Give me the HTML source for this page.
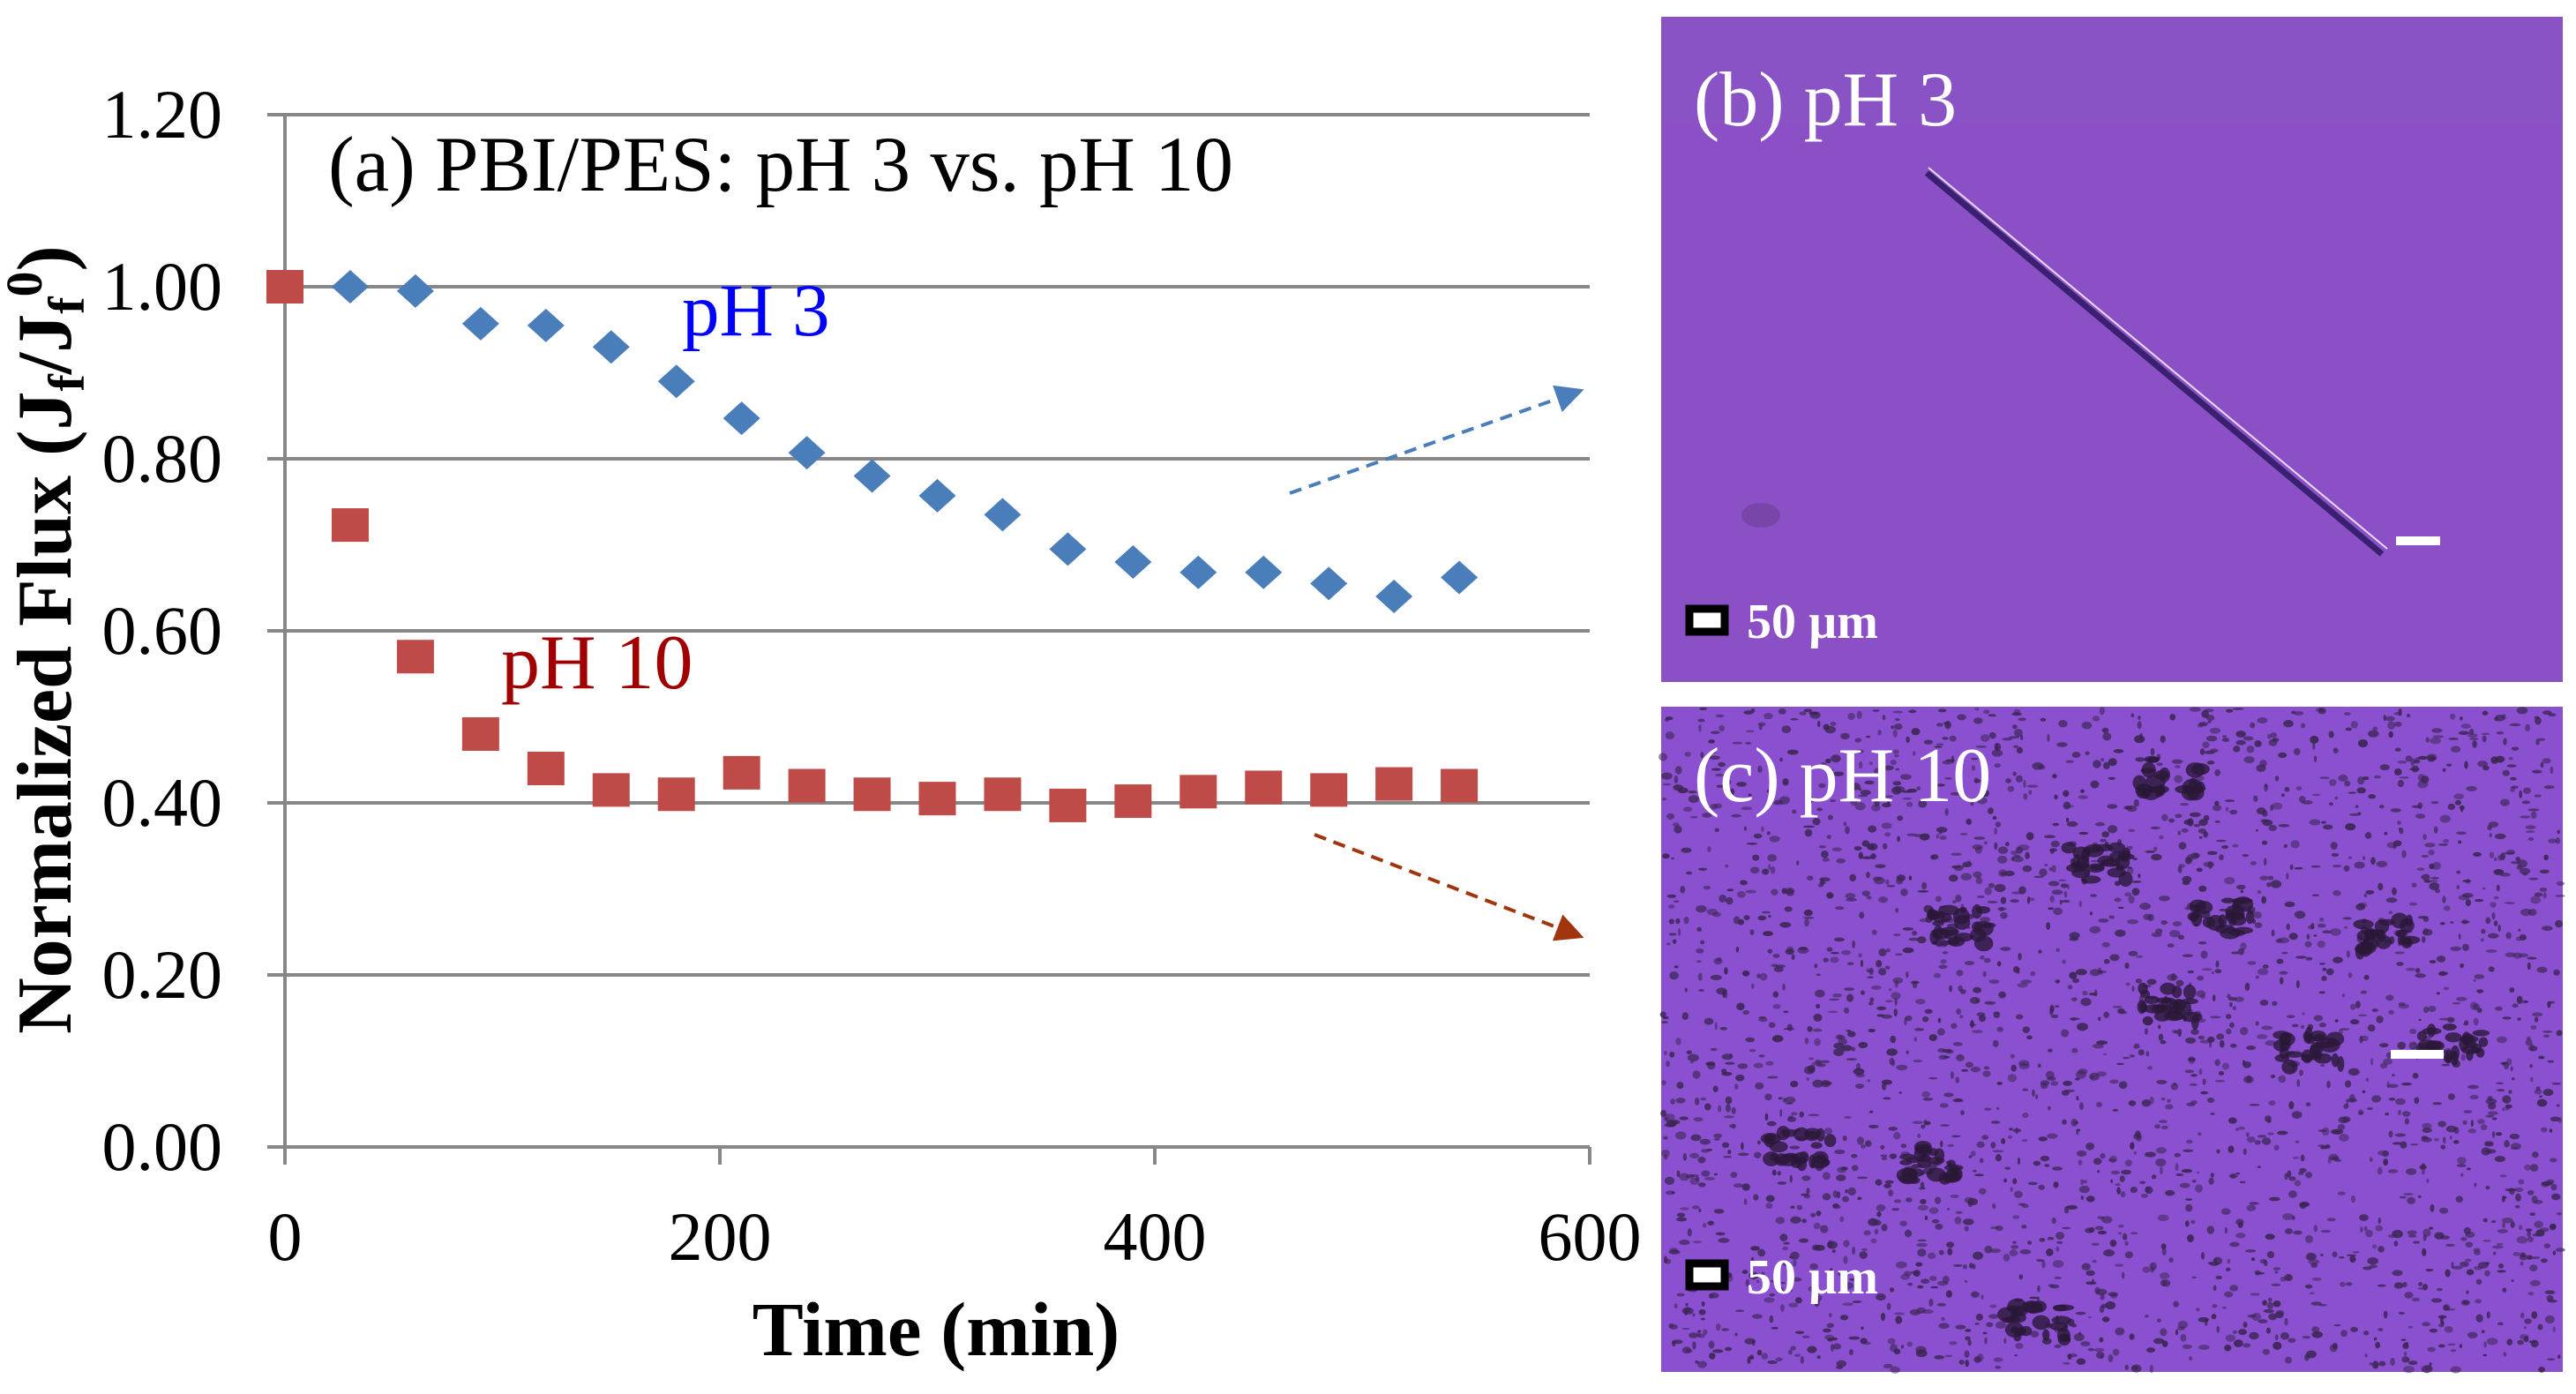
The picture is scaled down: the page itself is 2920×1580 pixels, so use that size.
<!DOCTYPE html>
<html><head><meta charset="utf-8"><style>
body{margin:0;background:#fff}
svg{display:block}
text{font-family:"Liberation Serif",serif}
</style></head><body>
<svg id="fig" width="2920" height="1580" viewBox="0 0 2920 1580" xmlns="http://www.w3.org/2000/svg">
<defs>
<marker id="ab" markerWidth="8" markerHeight="8" refX="6" refY="4" orient="auto" markerUnits="strokeWidth"><path d="M0,0 L8,4 L0,8 Z" fill="#4a7ebb"/></marker>
<marker id="ar" markerWidth="8" markerHeight="8" refX="6" refY="4" orient="auto" markerUnits="strokeWidth"><path d="M0,0 L8,4 L0,8 Z" fill="#a0350e"/></marker>
</defs>
<g id="grid"></g>
<g id="axes"></g>
<g id="marks"></g>
<text x="372" y="216" font-size="89">(a) PBI/PES: pH 3 vs. pH 10</text>
<text x="773" y="380" font-size="85" fill="#0000ff">pH 3</text>
<text x="568" y="780" font-size="88" fill="#a00000">pH 10</text>
<line x1="1462" y1="559" x2="1788" y2="444" stroke="#4a7ebb" stroke-width="4" stroke-dasharray="14,9" marker-end="url(#ab)"/>
<line x1="1490" y1="946" x2="1788" y2="1060" stroke="#a0350e" stroke-width="4" stroke-dasharray="14,9" marker-end="url(#ar)"/>
<text x="1061" y="1536" font-size="87" font-weight="bold" text-anchor="middle">Time (min)</text>
<text transform="translate(80,725) rotate(-90)" font-size="88" font-weight="bold" text-anchor="middle">Normalized Flux (J<tspan font-size="58" dy="15">f</tspan><tspan dy="-15">/J</tspan><tspan font-size="58" dy="15">f</tspan><tspan font-size="58" dy="-48">0</tspan><tspan dy="33">)</tspan></text>

<g>
<rect x="1883" y="19" width="1022" height="754" fill="#8b4fc6"/>
<rect x="1883" y="19" width="1022" height="120" fill="#8a58c4" opacity="0.5"/>
<ellipse cx="1996" cy="584" rx="22" ry="14" fill="#5a3a7a" opacity="0.4"/>
<line x1="2184" y1="196" x2="2700" y2="628" stroke="#3a2070" stroke-width="7"/>
<line x1="2186" y1="190" x2="2706" y2="622" stroke="#e8dcf5" stroke-width="2"/>
<rect x="2716" y="608" width="50" height="10" fill="#fff"/>
<text x="1920" y="142" font-size="88" fill="#fff">(b) pH 3</text>
<rect x="1915" y="690" width="40" height="26" fill="#fff" stroke="#000" stroke-width="9"/>
<text x="1980" y="723" font-size="56" font-weight="bold" fill="#fff">50 µm</text>
</g>
<g>
<rect x="1883" y="801" width="1022" height="754" fill="#8a50d0"/>
<g id="speck"></g>
<rect x="2710" y="1190" width="60" height="10" fill="#fff"/>
<text x="1920" y="908" font-size="88" fill="#fff">(c) pH 10</text>
<rect x="1915" y="1432" width="40" height="26" fill="#fff" stroke="#000" stroke-width="9"/>
<text x="1980" y="1466" font-size="56" font-weight="bold" fill="#fff">50 µm</text>
</g>
</svg>
<script>
const xTicks=[0,200,400,600];
const yTicks=[0,0.2,0.4,0.6,0.8,1.0,1.2];
const yTickLabels=["0.00","0.20","0.40","0.60","0.80","1.00","1.20"];
const timePH3=[30,60,90,120,150,180,210,240,270,300,330,360,390,420,450,480,510,540];
const fluxPH3=[1.00,0.995,0.957,0.955,0.93,0.89,0.847,0.807,0.78,0.757,0.735,0.695,0.68,0.668,0.668,0.655,0.64,0.662];
const timePH10=[0,30,60,90,120,150,180,210,240,270,300,330,360,390,420,450,480,510,540];
const fluxPH10=[1.00,0.723,0.57,0.48,0.44,0.415,0.41,0.435,0.42,0.41,0.405,0.41,0.397,0.402,0.413,0.418,0.415,0.422,0.42];

const NS="http://www.w3.org/2000/svg";
const X0=323,X1=1802,Y0=1300,Y1=130;
const sx=v=>X0+(v-0)/(600-0)*(X1-X0);
const sy=v=>Y0-(v-0)/(1.2-0)*(Y0-Y1);
function mk(tag,attrs,parent){const e=document.createElementNS(NS,tag);for(const k in attrs)e.setAttribute(k,attrs[k]);parent.appendChild(e);return e;}
const grid=document.getElementById('grid'),axes=document.getElementById('axes'),marks=document.getElementById('marks');
yTicks.forEach((v,i)=>{
  const l=mk('line',{x1:X0-20,x2:X1,y1:sy(v),y2:sy(v),stroke:'#878787','stroke-width':4},grid);
  
  
  const t=mk('text',{x:252,y:sy(v)+26,'font-size':78,'text-anchor':'end'},axes);
  t.textContent=yTickLabels[i];
  
  
});
const ya=mk('line',{x1:X0,x2:X0,y1:Y1,y2:Y0+20,stroke:'#878787','stroke-width':4},axes);


xTicks.forEach(v=>{
  const l=mk('line',{x1:sx(v),x2:sx(v),y1:Y0,y2:Y0+20,stroke:'#878787','stroke-width':4},axes);
  
  
  const t=mk('text',{x:sx(v),y:1428,'font-size':78,'text-anchor':'middle'},axes);
  t.textContent=String(v);
  
  
});
timePH3.forEach((t,i)=>{
  const x=sx(t),y=sy(fluxPH3[i]);
  const p=mk('polygon',{points:`${x-21},${y} ${x},${y-19} ${x+21},${y} ${x},${y+19}`,fill:'#4a7ebb'},marks);
  
  
});
timePH10.forEach((t,i)=>{
  const x=sx(t),y=sy(fluxPH10[i]);
  const r=mk('rect',{x:x-21,y:y-19,width:42,height:38,fill:'#be4b48'},marks);
  
  
});
// decorative speckles for micrograph (c)
const sp=document.getElementById('speck');let s=12345;
const rnd=()=>{s=(s*1103515245+12345)%2147483648;return s/2147483648;};
for(let i=0;i<2600;i++){
  const cx=1885+rnd()*1018,cy=803+rnd()*750;
  mk('ellipse',{cx:cx,cy:cy,rx:1.5+rnd()*5,ry:1.2+rnd()*3.5,fill:'#3a2550',opacity:0.5+rnd()*0.4},sp);
}
const clumps=[[2220,1050],[2380,980],[2460,1140],[2520,1040],[2040,1300],[2700,1060],[2620,1190],[2310,1500],[2190,1320],[2460,880],[2780,1180]];
clumps.forEach(c=>{for(let j=0;j<25;j++)mk('ellipse',{cx:c[0]+(rnd()-0.5)*70,cy:c[1]+(rnd()-0.5)*40,rx:4+rnd()*8,ry:3+rnd()*6,fill:'#2a1838',opacity:0.8},sp);});
</script>
</body></html>
